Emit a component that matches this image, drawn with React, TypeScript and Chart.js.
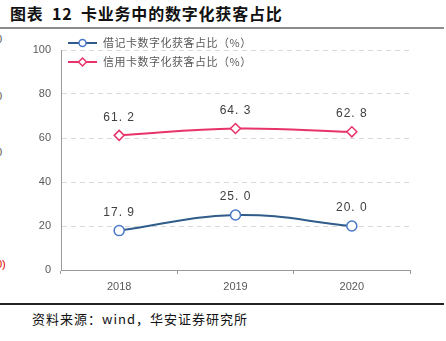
import React, { useEffect, useRef } from "react";
import { Chart, registerables } from "chart.js";

Chart.register(...registerables);

const categories = ["2018", "2019", "2020"];
const debitValues = [17.9, 25.0, 20.0];
const creditValues = [61.2, 64.3, 62.8];
const seriesNames = ["借记卡数字化获客占比（%）", "信用卡数字化获客占比（%）"];
const yTicks = [0, 20, 40, 60, 80, 100];

const DEBIT_LINE = "#2F5C8A";
const DEBIT_POINT = "#4A78C8";
const CREDIT = "#E8336A";
const CJK = '"Noto Sans CJK SC", "Noto Sans", sans-serif';
const LAT = '"Liberation Sans", Arial, sans-serif';

const valueLabels = {
  id: "valueLabels",
  afterDatasetsDraw(chart: any) {
    const ctx = chart.ctx;
    ctx.save();
    ctx.font = `12px ${LAT}`;
    (ctx as any).letterSpacing = "1px";
    ctx.fillStyle = "#404040";
    ctx.textAlign = "center";
    ctx.textBaseline = "middle";
    chart.data.datasets.forEach((ds: any, i: number) => {
      const meta = chart.getDatasetMeta(i);
      meta.data.forEach((pt: any, j: number) => {
        const t = Number(ds.data[j]).toFixed(1).replace(".", ". ");
        ctx.fillText(t, pt.x, pt.y - 18);
      });
    });
    ctx.restore();
  },
};

const insideLegend = {
  id: "insideLegend",
  afterDraw(chart: any) {
    const ctx = chart.ctx;
    const x0 = chart.chartArea.left + 7;
    const rows = [chart.chartArea.top - 7, chart.chartArea.top + 12];
    ctx.save();
    chart.data.datasets.forEach((ds: any, i: number) => {
      const y = rows[i];
      ctx.strokeStyle = ds.borderColor;
      ctx.lineWidth = 2;
      ctx.beginPath();
      ctx.moveTo(x0, y);
      ctx.lineTo(x0 + 29, y);
      ctx.stroke();
      ctx.fillStyle = "#fff";
      ctx.strokeStyle = ds.pointBorderColor;
      ctx.lineWidth = 1.5;
      const cx = x0 + 14.5;
      ctx.beginPath();
      if (ds.pointStyle === "rectRot") {
        ctx.moveTo(cx, y - 4);
        ctx.lineTo(cx + 4, y);
        ctx.lineTo(cx, y + 4);
        ctx.lineTo(cx - 4, y);
        ctx.closePath();
      } else {
        ctx.arc(cx, y, 3.5, 0, Math.PI * 2);
      }
      ctx.fill();
      ctx.stroke();
      ctx.fillStyle = "#595959";
      ctx.font = `11px ${CJK}`;
      (ctx as any).letterSpacing = "0.5px";
      ctx.textAlign = "left";
      ctx.textBaseline = "middle";
      ctx.fillText(ds.label, x0 + 35, y);
      (ctx as any).letterSpacing = "0px";
    });
    ctx.restore();
  },
};

function LineChart() {
  const ref = useRef<HTMLCanvasElement>(null);
  useEffect(() => {
    if (!ref.current) return;
    const chart = new Chart(ref.current, {
      type: "line",
      data: {
        labels: categories,
        datasets: [
          {
            label: seriesNames[0],
            data: debitValues,
            borderColor: DEBIT_LINE,
            borderWidth: 2,
            pointStyle: "circle",
            pointRadius: 5,
            pointBackgroundColor: "#fff",
            pointBorderColor: DEBIT_POINT,
            pointBorderWidth: 1.5,
            tension: 0.4,
          },
          {
            label: seriesNames[1],
            data: creditValues,
            borderColor: CREDIT,
            borderWidth: 2,
            pointStyle: "rectRot",
            pointRadius: 5,
            pointBackgroundColor: "#fff",
            pointBorderColor: CREDIT,
            pointBorderWidth: 1.5,
            tension: 0.4,
          },
        ],
      },
      options: {
        animation: false,
        responsive: false,
        maintainAspectRatio: false,
        layout: { padding: { top: 20, right: 36, left: 0, bottom: 0 } },
        plugins: { legend: { display: false }, tooltip: { enabled: false } },
        scales: {
          x: {
            type: "category",
            offset: true,
            grid: {
              offset: true,
              drawOnChartArea: false,
              drawTicks: true,
              tickLength: 4,
              color: "#999",
            },
            border: { color: "#999", width: 1 },
            ticks: { color: "#595959", font: { size: 11, family: LAT }, padding: 6 },
            afterFit: (s: any) => {
              s.height = 30;
            },
          },
          y: {
            min: 0,
            max: 100,
            afterBuildTicks: (s: any) => {
              s.ticks = yTicks.map((v) => ({ value: v }));
            },
            grid: {
              color: (c: any) => (c.tick && c.tick.value === 0 ? "rgba(0,0,0,0)" : "#D9D9D9"),
              lineWidth: 1,
              drawTicks: false,
            },
            border: { color: "#999", width: 1, dash: [5, 4] },
            ticks: { color: "#595959", font: { size: 11, family: LAT }, padding: 10 },
            afterFit: (s: any) => {
              s.width = 61;
            },
          },
        },
      },
      plugins: [valueLabels, insideLegend],
    } as any);
    return () => chart.destroy();
  }, []);
  return <canvas ref={ref} width={446} height={270} style={{ position: "absolute", left: 0, top: 30, width: 446, height: 270 }} />;
}

export default function App() {
  return (
    <div style={{ position: "fixed", left: 0, top: 0, width: 446, height: 341, background: "#fff", overflow: "hidden" }}>
      <div style={{ position: "absolute", left: 10, top: 3, fontFamily: CJK, fontWeight: "bold", fontSize: 16, color: "#111", whiteSpace: "pre", lineHeight: "20px", letterSpacing: 0.8, wordSpacing: 4 }}>
        图表 12 卡业务中的数字化获客占比
      </div>
      <div style={{ position: "absolute", left: 0, top: 27, width: 444, height: 2, background: "#8C8C8C" }} />
      <div style={{ position: "absolute", left: -4, top: 33, fontFamily: LAT, fontSize: 11, color: "#595959" }}>0</div>
      <div style={{ position: "absolute", left: -4, top: 90, fontFamily: LAT, fontSize: 11, color: "#595959" }}>0</div>
      <div style={{ position: "absolute", left: -4, top: 146, fontFamily: LAT, fontSize: 11, color: "#595959" }}>0</div>
      <div style={{ position: "absolute", left: -4, top: 258, fontFamily: LAT, fontSize: 11, color: "#E00000" }}>0)</div>
      <LineChart />
      <div style={{ position: "absolute", left: 0, top: 303, width: 444, height: 2, background: "#222" }} />
      <div style={{ position: "absolute", left: 32, top: 310, fontFamily: CJK, fontSize: 13, color: "#111", whiteSpace: "nowrap", letterSpacing: 1, lineHeight: "18px" }}>
        资料来源：wind，华安证券研究所
      </div>
    </div>
  );
}
